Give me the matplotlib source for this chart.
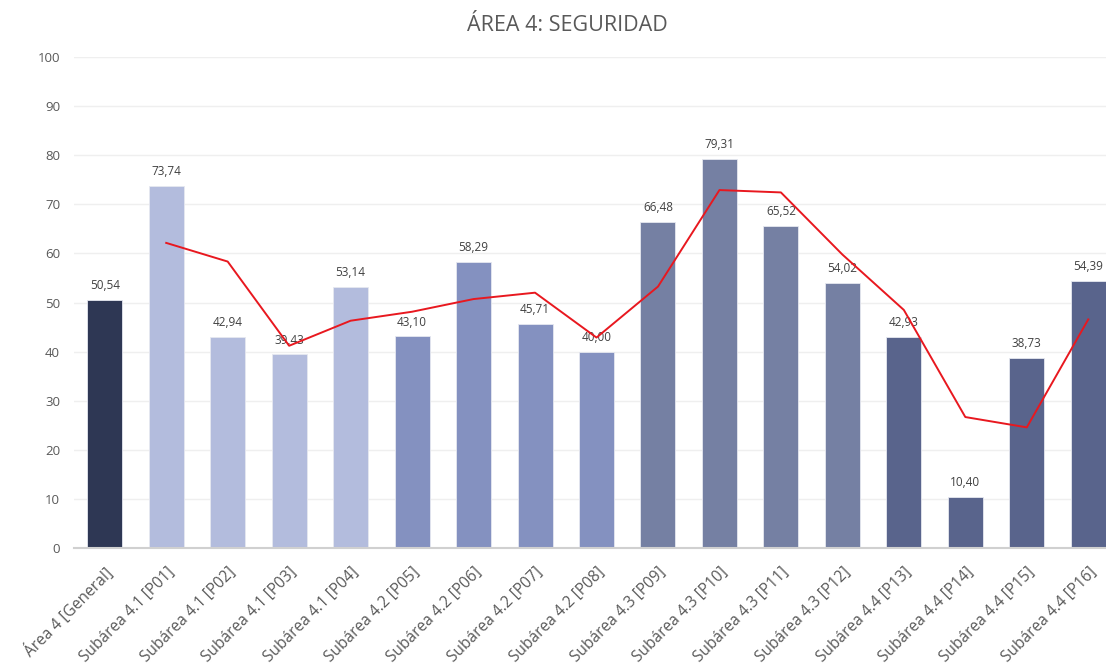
import numpy as np
import matplotlib
matplotlib.use("Agg")
import matplotlib.pyplot as plt

# datos del gráfico
categorias = ["Área 4 [General]",
              "Subárea 4.1 [P01]", "Subárea 4.1 [P02]", "Subárea 4.1 [P03]", "Subárea 4.1 [P04]",
              "Subárea 4.2 [P05]", "Subárea 4.2 [P06]", "Subárea 4.2 [P07]", "Subárea 4.2 [P08]",
              "Subárea 4.3 [P09]", "Subárea 4.3 [P10]", "Subárea 4.3 [P11]", "Subárea 4.3 [P12]",
              "Subárea 4.4 [P13]", "Subárea 4.4 [P14]", "Subárea 4.4 [P15]", "Subárea 4.4 [P16]"]
valores = [50.54, 73.74, 42.94, 39.43, 53.14, 43.10, 58.29, 45.71, 40.00,
           66.48, 79.31, 65.52, 54.02, 42.93, 10.40, 38.73, 54.39]
# línea de tendencia (media móvil de 2 periodos)
tendencia = [np.nan, 62.14, 58.34, 41.19, 46.29, 48.12, 50.70, 52.00, 42.86,
             53.24, 72.90, 72.42, 59.77, 48.48, 26.67, 24.57, 46.56]
grupos = [0, 1, 1, 1, 1, 2, 2, 2, 2, 3, 3, 3, 3, 4, 4, 4, 4]

colores_grupo = ["#2E3754", "#B3BCDD", "#8491C0", "#7580A3", "#59648C"]

plt.rcParams['font.family'] = ['Open Sans', 'DejaVu Sans']

fig = plt.figure(figsize=(11.06, 6.71), dpi=100)
ax = fig.add_axes([74 / 1106, 123 / 671, 1045 / 1106, 491 / 671])

x = np.arange(len(categorias))
colores = [colores_grupo[g] for g in grupos]
ax.bar(x, valores, width=0.57, color=colores, edgecolor="#E6E8F0", linewidth=0.6, zorder=2)

for xi, v in zip(x, valores):
    ax.text(xi, v + 1.6, f"{v:.2f}".replace(".", ","), ha="center", va="bottom",
            fontsize=8.5, color="#404040", zorder=3)

ax.plot(x, tendencia, color="#E8181F", linewidth=1.4, zorder=4)

ax.set_xlim(-0.5, len(categorias) - 0.5)
ax.set_ylim(0, 100)
ax.set_yticks(range(0, 101, 10))
ax.yaxis.grid(True, color="#EFEFEF", linewidth=1.0, zorder=0)
ax.set_axisbelow(True)

for s in ["top", "right", "left"]:
    ax.spines[s].set_visible(False)
ax.spines["bottom"].set_color("#D0D0D0")
ax.spines["bottom"].set_linewidth(1.5)

ax.tick_params(axis="y", length=0, colors="#595959", labelsize=9.5, pad=10)
ax.tick_params(axis="x", length=0, colors="#595959", pad=12)
ax.set_xticks(x)
ax.set_xticklabels(categorias, rotation=45, ha="right", rotation_mode="anchor",
                   fontsize=11.2, color="#595959")

fig.text(0.513, 0.962, "ÁREA 4: SEGURIDAD", ha="center", va="center",
         fontsize=15.5, color="#595959")

fig.savefig("out.png", dpi=100)
